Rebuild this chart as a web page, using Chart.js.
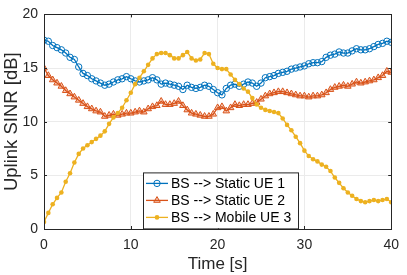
<!DOCTYPE html>
<html>
<head>
<meta charset="utf-8">
<script src="https://cdn.jsdelivr.net/npm/chart.js@4/dist/chart.umd.min.js"></script>
<style>
  html, body { margin: 0; padding: 0; background: #fff; }
  #sinrChart { display: block; }
</style>
</head>
<body>
<canvas id="sinrChart" width="407" height="275"></canvas>
<script>
// time axis, 0.5 s steps
const timeSec = [];
for (let i = 0; i <= 80; i++) timeSec.push(i / 2);

const xTicks = [0, 10, 20, 30, 40];
const yTicks = [0, 5, 10, 15, 20];

const seriesNames = ['BS --> Static UE 1', 'BS --> Static UE 2', 'BS --> Mobile UE 3'];

const staticUe1 = [
    17.6, 17.5, 17.1, 16.9, 16.7, 16.4, 16.0, 15.8, 15.1, 14.5,
    14.3, 14.0, 13.8, 13.6, 13.4, 13.5, 13.7, 13.9, 14.0, 14.2,
    14.0, 13.8, 13.7, 13.8, 13.9, 14.1, 13.9, 13.5, 13.6, 13.5,
    13.4, 13.3, 13.0, 13.4, 13.2, 13.1, 13.2, 13.4, 13.3, 13.0,
    12.7, 12.5, 13.1, 13.4, 13.5, 13.3, 13.5, 13.7, 13.6, 13.3,
    13.6, 14.1, 14.2, 14.3, 14.5, 14.6, 14.7, 14.9, 15.0, 15.1,
    15.2, 15.4, 15.5, 15.5, 15.6, 16.0, 16.2, 16.3, 16.5, 16.4,
    16.4, 16.6, 16.8, 16.7, 16.7, 16.8, 17.0, 17.2, 17.3, 17.5,
    17.4
];

const staticUe2 = [
    15.0, 14.3, 13.9, 13.6, 13.3, 12.9, 12.6, 12.3, 12.0, 11.7,
    11.4, 11.2, 11.0, 10.9, 10.5, 10.6, 10.7, 10.6, 10.7, 10.8,
    10.8, 10.9, 11.0, 10.9, 11.2, 11.4, 11.5, 11.9, 11.6, 11.6,
    11.7, 11.9, 11.5, 11.1, 10.8, 10.7, 10.6, 10.5, 10.5, 10.7,
    11.3, 11.4, 11.0, 11.3, 11.6, 11.5, 11.6, 11.6, 11.7, 11.8,
    12.1, 12.4, 12.6, 12.7, 12.8, 12.8, 12.7, 12.6, 12.5, 12.4,
    12.4, 12.3, 12.4, 12.4, 12.5, 12.7, 13.0, 13.2, 13.3, 13.4,
    13.3, 13.5, 13.7, 13.6, 13.7, 13.8, 13.9, 14.1, 14.3, 14.7,
    14.6
];

const mobileUe3 = [
    0.65, 1.5, 2.3, 2.9, 3.4, 4.4, 5.2, 6.2, 7.0, 7.5,
    7.8, 8.1, 8.4, 8.7, 9.1, 9.8, 10.4, 10.8, 11.3, 12.0,
    12.7, 13.5, 14.1, 14.7, 15.3, 15.9, 16.3, 16.4, 16.4, 16.2,
    15.9, 15.9, 16.2, 16.5, 15.9, 15.7, 15.8, 16.4, 16.3, 15.4,
    15.0, 14.9, 14.9, 14.4, 13.9, 13.5, 13.1, 12.8, 12.2, 11.6,
    11.3, 11.1, 11.0, 10.9, 10.8, 10.3, 9.7, 9.2, 8.6, 8.0,
    7.3, 6.8, 6.5, 6.3, 6.0, 5.8, 5.4, 4.8, 4.3, 3.8,
    3.4, 3.1, 2.8, 2.6, 2.5, 2.6, 2.7, 2.6, 2.7, 2.8,
    2.5
];

const BLUE = '#0072BD';
const ORANGE = '#D95319';
const YELLOW = '#EDB120';
const AXIS = '#262626';
const FONT = '"Liberation Sans", Arial, Helvetica, sans-serif';

function toPoints(vals) {
    return vals.map((v, i) => ({ x: timeSec[i], y: v }));
}

// box around the plot + inward ticks, like matlab
const boxPlugin = {
    id: 'box',
    afterDraw(chart) {
        const { ctx, chartArea: a, scales } = chart;
        ctx.save();
        ctx.strokeStyle = AXIS;
        ctx.lineWidth = 1;
        ctx.beginPath();
        xTicks.forEach(t => {
            const px = Math.round(scales.x.getPixelForValue(t)) + 0.5;
            ctx.moveTo(px, a.bottom); ctx.lineTo(px, a.bottom - 3);
            ctx.moveTo(px, a.top); ctx.lineTo(px, a.top + 3);
        });
        yTicks.forEach(t => {
            const py = Math.round(scales.y.getPixelForValue(t)) + 0.5;
            ctx.moveTo(a.left, py); ctx.lineTo(a.left + 3, py);
            ctx.moveTo(a.right, py); ctx.lineTo(a.right - 3, py);
        });
        ctx.stroke();
        ctx.strokeRect(Math.round(a.left) + 0.5, Math.round(a.top) + 0.5,
            Math.round(a.right - a.left), Math.round(a.bottom - a.top));
        ctx.restore();
    }
};

// legend box inside the axes, lower middle
const legendPlugin = {
    id: 'boxLegend',
    afterDraw(chart) {
        const { ctx, chartArea: a } = chart;
        const left = a.left + 99, top = a.top + 158, w = 155, h = 56;
        ctx.save();
        ctx.fillStyle = '#fff';
        ctx.fillRect(left, top, w, h);
        ctx.strokeStyle = AXIS;
        ctx.lineWidth = 1;
        ctx.strokeRect(left + 0.5, top + 0.5, w, h);
        ctx.font = '14px ' + FONT;
        ctx.textBaseline = 'middle';
        chart.data.datasets.forEach((ds, i) => {
            const y = top + 11 + i * 17;
            ctx.strokeStyle = ds.borderColor;
            ctx.lineWidth = ds.borderWidth;
            ctx.beginPath();
            ctx.moveTo(left + 3, y);
            ctx.lineTo(left + 25, y);
            ctx.stroke();
            ctx.strokeStyle = ds.pointBorderColor || ds.borderColor;
            ctx.fillStyle = ds.pointBackgroundColor;
            ctx.lineWidth = ds.pointBorderWidth;
            Chart.helpers.drawPoint(ctx, {
                pointStyle: ds.pointStyle,
                radius: ds.pointRadius,
                rotation: 0,
                borderWidth: ds.pointBorderWidth
            }, left + 14, y);
            ctx.fillStyle = '#000';
            ctx.fillText(seriesNames[i], left + 28, y + 1);
        });
        ctx.restore();
    }
};

const ctx = document.getElementById('sinrChart').getContext('2d');
const sinrChart = new Chart(ctx, {
    type: 'line',
    data: {
        datasets: [{
            label: seriesNames[0],
            data: toPoints(staticUe1),
            borderColor: BLUE,
            borderWidth: 1.3,
            pointStyle: 'circle',
            pointRadius: 3.2,
            pointBorderWidth: 1,
            pointBorderColor: BLUE,
            pointBackgroundColor: 'rgba(255,255,255,0)',
            order: 3
        }, {
            label: seriesNames[1],
            data: toPoints(staticUe2),
            borderColor: ORANGE,
            borderWidth: 1.3,
            pointStyle: 'triangle',
            pointRadius: 3.8,
            pointBorderWidth: 1,
            pointBorderColor: ORANGE,
            pointBackgroundColor: 'rgba(217,83,25,0.3)',
            order: 2
        }, {
            label: seriesNames[2],
            data: toPoints(mobileUe3),
            borderColor: YELLOW,
            borderWidth: 1.3,
            pointStyle: 'circle',
            pointRadius: 2.3,
            pointBorderWidth: 0,
            pointBackgroundColor: YELLOW,
            order: 1
        }]
    },
    options: {
        responsive: false,
        animation: false,
        layout: { padding: { left: 1, right: 9, top: 6, bottom: 0 } },
        plugins: {
            legend: { display: false },
            tooltip: { enabled: false }
        },
        scales: {
            x: {
                type: 'linear',
                min: 0,
                max: 40,
                afterBuildTicks: (scale) => { scale.ticks = xTicks.map(v => ({ value: v })); },
                afterFit: (scale) => { scale.height = 46; },
                grid: { color: '#ebebeb', tickLength: 0, drawTicks: false },
                border: { display: false },
                ticks: { color: AXIS, font: { family: FONT, size: 14 }, padding: 8, maxRotation: 0 },
                title: {
                    display: true,
                    text: 'Time [s]',
                    color: AXIS,
                    font: { family: FONT, size: 17 },
                    padding: { top: 0, bottom: 0 }
                }
            },
            y: {
                min: 0,
                max: 20,
                afterBuildTicks: (scale) => { scale.ticks = yTicks.map(v => ({ value: v })); },
                afterFit: (scale) => { scale.width = 43; },
                grid: { color: '#ebebeb', tickLength: 0, drawTicks: false },
                border: { display: false },
                ticks: { color: AXIS, font: { family: FONT, size: 14 }, padding: 6 },
                title: {
                    display: true,
                    text: 'Uplink SINR [dB]',
                    color: AXIS,
                    font: { family: FONT, size: 18.5 },
                    padding: { top: 0, bottom: 0 }
                }
            }
        }
    },
    plugins: [boxPlugin, legendPlugin]
});
</script>
</body>
</html>
